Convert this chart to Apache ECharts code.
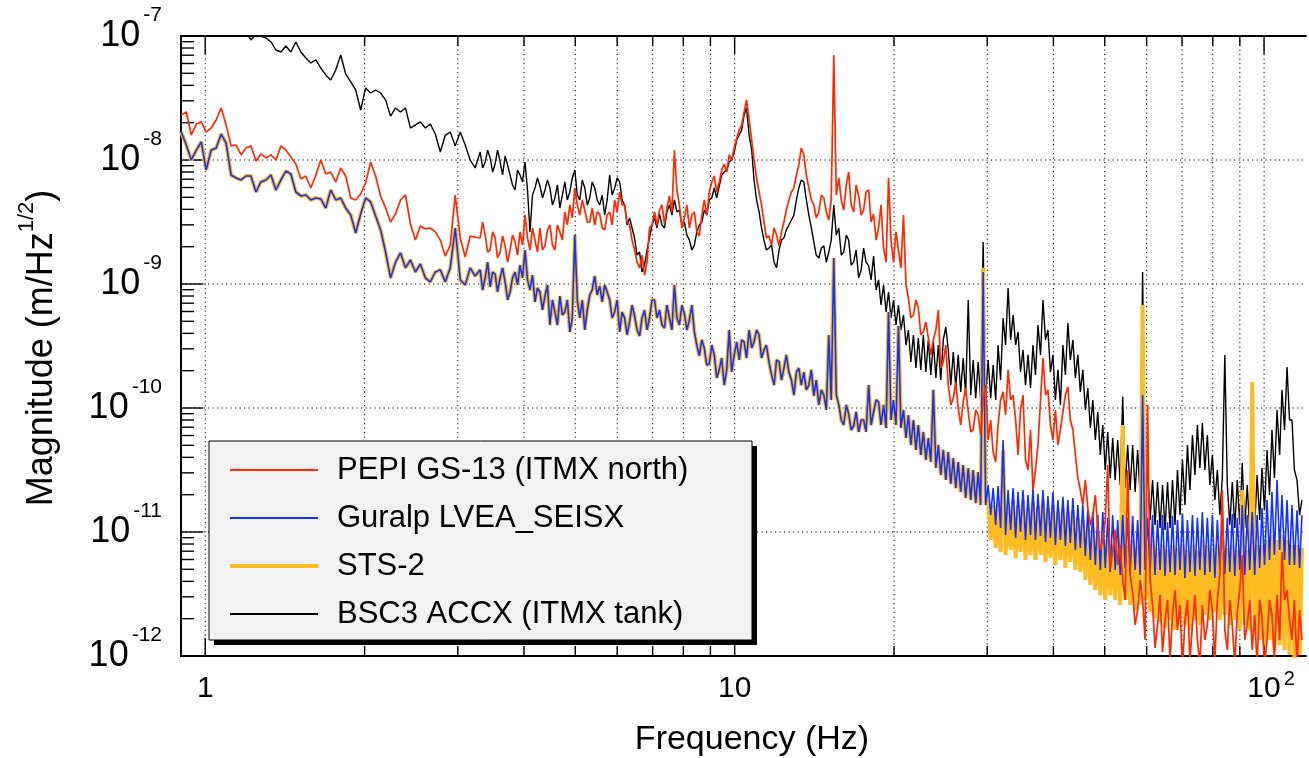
<!DOCTYPE html>
<html><head><meta charset="utf-8">
<script src="https://cdn.jsdelivr.net/npm/echarts@6/dist/echarts.min.js"></script>
<style>html,body{margin:0;padding:0;background:#fff}#c{width:1309px;height:758px}</style>
</head><body><div id="c"></div>
<script>
// Frequency samples (Hz)
const freq = [
0.901,0.921,0.941,0.962,0.983,1.004,1.026,1.049,1.072,1.095,
1.119,1.144,1.169,1.194,1.220,1.247,1.274,1.302,1.331,1.360,
1.390,1.420,1.451,1.483,1.516,1.549,1.583,1.618,1.653,1.689,
1.726,1.764,1.803,1.842,1.883,1.924,1.966,2.009,2.053,2.098,
2.144,2.191,2.239,2.288,2.338,2.389,2.441,2.495,2.549,2.605,
2.662,2.720,2.780,2.841,2.903,2.966,3.032,3.098,3.166,3.235,
3.306,3.342,3.379,3.416,3.453,3.491,3.528,3.566,3.606,3.645,
3.685,3.725,3.765,3.806,3.848,3.890,3.932,3.975,4.018,4.062,
4.106,4.151,4.196,4.242,4.288,4.335,4.382,4.430,4.478,4.527,
4.576,4.626,4.676,4.727,4.778,4.830,4.883,4.936,4.990,5.044,
5.099,5.155,5.211,5.268,5.325,5.383,5.441,5.500,5.561,5.622,
5.682,5.744,5.807,5.870,5.934,5.999,6.064,6.130,6.197,6.264,
6.332,6.401,6.471,6.541,6.613,6.685,6.757,6.831,6.905,6.980,
7.057,7.134,7.211,7.290,7.369,7.449,7.530,7.612,7.695,7.779,
7.864,7.950,8.036,8.124,8.212,8.301,8.392,8.483,8.576,8.669,
8.763,8.858,8.955,9.053,9.151,9.251,9.351,9.453,9.556,9.660,
9.765,9.871,9.98,10.09,10.20,10.31,10.42,10.53,10.65,10.77,
10.88,11.00,11.12,11.24,11.36,11.48,11.61,11.74,11.87,12.00,
12.13,12.26,12.39,12.52,12.66,12.80,12.94,13.08,13.22,13.36,
13.51,13.66,13.81,13.96,14.11,14.26,14.42,14.58,14.74,14.90,
15.06,15.22,15.39,15.56,15.73,15.90,16.07,16.25,16.42,16.60,
16.78,16.96,17.15,17.34,17.52,17.71,17.91,18.10,18.30,18.50,
18.70,18.90,19.11,19.32,19.53,19.74,19.95,20.17,20.39,20.61,
20.84,21.07,21.29,21.52,21.76,22.00,22.23,22.47,22.72,22.97,
23.22,23.47,23.73,23.99,24.25,24.51,24.78,25.05,25.32,25.60,
25.88,26.16,26.44,26.73,27.02,27.31,27.62,27.92,28.22,28.53,
28.84,29.15,29.47,29.79,30.12,30.45,30.78,31.12,31.45,31.79,
32.14,32.49,32.85,33.21,33.57,33.94,34.30,34.67,35.05,35.43,
35.82,36.21,36.60,37.00,37.41,37.82,38.23,38.65,39.06,39.49,
39.92,40.35,40.80,41.24,41.69,42.14,42.60,43.06,43.54,44.01,
44.49,44.97,45.46,45.96,46.46,46.97,47.48,48.00,48.52,49.05,
49.58,50.12,50.66,51.21,51.77,52.33,52.91,53.49,54.07,54.66,
55.25,55.85,56.46,57.07,57.70,58.33,58.96,59.60,60.25,60.91,
61.57,62.24,62.92,63.61,64.30,65.00,65.71,66.43,67.15,67.88,
68.62,69.37,70.12,70.88,71.66,72.44,73.23,74.03,74.83,75.64,
76.47,77.30,78.14,78.99,79.86,80.73,81.61,82.50,83.39,84.30,
85.22,86.15,87.09,88.04,89.00,89.97,90.94,91.93,92.93,93.94,
94.97,96.00,97.0,98.1,99.1,100.2,101.3,102.4,103.5,104.6,
105.8,107.0,108.1,109.3,110.5,111.7,112.9,114.1,115.4,116.7,
117.9];

// PEPI GS-13 (ITMX north), m/Hz^1/2
const pepi = [
2.31e-8,2.44e-8,1.59e-8,1.95e-8,2.03e-8,1.68e-8,1.81e-8,2.10e-8,2.63e-8,1.92e-8,
1.30e-8,1.32e-8,1.10e-8,1.25e-8,1.30e-8,9.82e-9,1.12e-8,1.04e-8,1.10e-8,1.00e-8,
1.30e-8,1.20e-8,1.06e-8,9.29e-9,7.03e-9,7.43e-9,5.95e-9,7.57e-9,1.00e-8,7.71e-9,
8.00e-9,6.65e-9,8.62e-9,7.43e-9,4.94e-9,4.76e-9,5.32e-9,6.53e-9,9.64e-9,7.43e-9,
5.13e-9,4.10e-9,3.16e-9,3.67e-9,4.76e-9,5.22e-9,3.05e-9,2.26e-9,2.94e-9,2.78e-9,
2.83e-9,2.63e-9,2.26e-9,1.68e-9,2.06e-9,5.22e-9,2.35e-9,1.65e-9,2.44e-9,2.39e-9,
2.35e-9,3.16e-9,2.48e-9,1.81e-9,1.88e-9,2.63e-9,2.35e-9,1.62e-9,1.81e-9,2.44e-9,
2.03e-9,1.50e-9,1.88e-9,2.48e-9,2.18e-9,1.71e-9,2.63e-9,2.06e-9,3.60e-9,2.35e-9,
1.88e-9,2.83e-9,2.26e-9,1.81e-9,2.83e-9,1.88e-9,2.03e-9,2.73e-9,2.99e-9,2.06e-9,
1.88e-9,2.99e-9,2.63e-9,2.26e-9,3.81e-9,2.99e-9,4.34e-9,3.41e-9,5.95e-9,4.34e-9,
3.60e-9,4.76e-9,3.95e-9,3.16e-9,3.16e-9,4.10e-9,2.99e-9,3.81e-9,3.67e-9,2.83e-9,
2.73e-9,3.60e-9,3.81e-9,2.99e-9,4.76e-9,3.81e-9,5.52e-9,4.34e-9,4.34e-9,3.16e-9,
2.99e-9,2.26e-9,1.88e-9,1.50e-9,1.35e-9,1.71e-9,1.18e-9,1.50e-9,2.83e-9,2.99e-9,
3.81e-9,2.99e-9,3.95e-9,4.34e-9,3.05e-9,4.10e-9,5.13e-9,3.81e-9,1.20e-8,5.73e-9,
4.34e-9,2.83e-9,3.41e-9,4.34e-9,2.83e-9,3.60e-9,3.81e-9,2.63e-9,2.44e-9,3.60e-9,
4.76e-9,3.60e-9,5.52e-9,6.65e-9,7.43e-9,5.52e-9,6.65e-9,8.31e-9,9.29e-9,8.00e-9,
1.10e-8,1.00e-8,1.25e-8,1.50e-8,1.75e-8,1.92e-8,2.44e-8,3.05e-8,2.10e-8,1.45e-8,
1.00e-8,7.16e-9,5.52e-9,4.34e-9,3.16e-9,2.35e-9,2.44e-9,2.06e-9,2.83e-9,2.48e-9,
2.03e-9,2.63e-9,3.16e-9,3.95e-9,4.76e-9,5.52e-9,5.95e-9,7.57e-9,9.12e-9,1.25e-8,
1.10e-8,7.57e-9,5.95e-9,4.76e-9,4.34e-9,3.41e-9,3.81e-9,5.22e-9,4.94e-9,3.81e-9,
3.28e-9,4.76e-9,7.03e-8,5.22e-9,7.16e-9,4.76e-9,3.95e-9,6.29e-9,8.00e-9,4.34e-9,
3.81e-9,6.29e-9,5.13e-9,3.60e-9,3.95e-9,5.52e-9,5.73e-9,3.16e-9,3.67e-9,2.26e-9,
2.83e-9,4.34e-9,1.95e-9,1.50e-9,7.16e-9,2.26e-9,1.50e-9,2.63e-9,1.88e-9,1.35e-9,
3.60e-9,9.82e-10,7.71e-10,5.32e-10,5.62e-10,7.43e-10,6.41e-10,3.88e-10,4.10e-10,4.94e-10,
3.67e-10,2.68e-10,3.54e-10,4.26e-10,6.17e-10,2.10e-10,2.35e-10,3.22e-10,1.53e-10,1.06e-10,
1.20e-10,1.62e-10,1.00e-10,7.29e-11,1.12e-10,1.45e-10,9.29e-11,6.41e-11,6.65e-11,9.64e-11,
8.78e-11,6.06e-11,1.16e-10,1.53e-10,5.52e-11,8.00e-11,4.42e-11,3.67e-11,7.29e-11,1.16e-10,
1.35e-10,8.78e-11,2.03e-10,1.16e-10,1.27e-10,8.00e-11,4.18e-11,9.64e-11,1.27e-10,3.81e-11,
3.16e-11,6.65e-11,2.18e-11,3.16e-11,5.03e-11,1.16e-10,2.53e-10,1.27e-10,1.40e-10,7.29e-11,
5.52e-11,9.64e-11,5.03e-11,6.65e-11,9.29e-11,1.27e-10,1.48e-10,8.00e-11,6.65e-11,4.18e-11,
2.73e-11,2.18e-11,1.65e-11,2.63e-11,1.56e-11,1.14e-11,1.37e-11,1.99e-11,1.08e-11,7.16e-12,
8.62e-12,1.25e-11,3.47e-11,4.94e-12,7.16e-12,1.04e-11,5.42e-12,7.85e-12,4.10e-12,2.83e-12,
3.16e-11,4.50e-12,3.28e-12,1.78e-12,2.35e-12,4.10e-12,2.83e-12,1.35e-12,1.06e-10,4.10e-12,
2.58e-12,1.16e-12,1.78e-12,3.10e-12,1.08e-12,1.95e-12,2.83e-12,9.3e-13,2.14e-12,3.41e-12,
1.62e-12,2.58e-12,8.0e-13,1.95e-12,2.83e-12,9.3e-13,1.78e-12,3.10e-12,1.35e-12,8.5e-13,
2.58e-12,1.35e-12,1.78e-12,3.41e-12,2.35e-12,9.3e-13,2.83e-12,4.50e-12,2.18e-11,1.62e-12,
1.12e-12,2.83e-12,1.78e-12,8.5e-13,2.26e-12,3.41e-12,6.53e-12,1.35e-12,1.78e-12,2.83e-12,
1.12e-12,2.14e-12,8.5e-13,2.83e-12,2.03e-12,8.5e-13,1.35e-12,2.83e-12,2.14e-12,9.3e-13,
3.10e-12,1.35e-12,6.90e-12,2.83e-12,3.41e-12,1.95e-12,1.35e-12,2.83e-12,8.5e-13,2.35e-12,
1.35e-12];

// Guralp LVEA_SEISX
const guralp = [
1.68e-8,1.32e-8,1.00e-8,1.20e-8,1.40e-8,8.31e-9,1.20e-8,1.25e-8,1.62e-8,1.37e-8,
7.57e-9,7.16e-9,6.90e-9,7.43e-9,7.43e-9,5.52e-9,6.65e-9,6.90e-9,7.57e-9,5.73e-9,
6.90e-9,8.15e-9,7.71e-9,5.52e-9,5.13e-9,5.22e-9,4.76e-9,4.94e-9,4.85e-9,4.10e-9,
5.73e-9,4.76e-9,4.94e-9,4.10e-9,3.60e-9,2.58e-9,3.67e-9,4.94e-9,4.59e-9,3.54e-9,
2.73e-9,1.81e-9,1.12e-9,1.50e-9,1.78e-9,1.35e-9,1.56e-9,1.25e-9,1.45e-9,1.12e-9,
1.04e-9,1.25e-9,1.30e-9,1.04e-9,1.35e-9,2.83e-9,1.08e-9,9.82e-10,1.35e-9,1.16e-9,
1.30e-9,8.95e-10,1.12e-9,1.50e-9,9.46e-10,1.25e-9,1.20e-9,8.62e-10,1.12e-9,1.35e-9,
1.04e-9,7.43e-10,8.62e-10,1.12e-9,1.25e-9,9.82e-10,1.42e-9,1.12e-9,1.88e-9,1.08e-9,
8.95e-10,1.18e-9,7.16e-10,9.29e-10,8.62e-10,6.17e-10,8.00e-10,9.82e-10,4.67e-10,7.43e-10,
5.95e-10,4.67e-10,8.00e-10,5.62e-10,5.95e-10,7.43e-10,4.10e-10,5.32e-10,2.48e-9,7.43e-10,
5.32e-10,7.43e-10,4.26e-10,6.17e-10,8.15e-10,8.95e-10,1.16e-9,8.15e-10,9.64e-10,7.16e-10,
9.82e-10,8.62e-10,7.43e-10,5.32e-10,5.95e-10,7.43e-10,4.10e-10,5.95e-10,5.32e-10,3.88e-10,
4.94e-10,6.77e-10,5.52e-10,4.26e-10,3.81e-10,5.32e-10,6.17e-10,4.26e-10,5.32e-10,7.43e-10,
7.43e-10,5.32e-10,6.17e-10,4.67e-10,4.42e-10,6.77e-10,5.32e-10,4.26e-10,9.82e-10,5.32e-10,
4.67e-10,6.77e-10,5.73e-10,4.26e-10,5.13e-10,6.77e-10,4.10e-10,3.22e-10,2.63e-10,3.54e-10,
3.05e-10,2.22e-10,2.26e-10,3.22e-10,2.68e-10,1.75e-10,2.03e-10,2.53e-10,1.53e-10,2.03e-10,
4.26e-10,1.95e-10,2.68e-10,3.41e-10,2.44e-10,3.54e-10,3.41e-10,2.53e-10,4.26e-10,3.05e-10,
3.41e-10,4.26e-10,3.88e-10,2.53e-10,2.94e-10,3.22e-10,2.35e-10,1.85e-10,1.53e-10,2.44e-10,
2.35e-10,1.68e-10,2.10e-10,2.68e-10,1.95e-10,1.68e-10,1.27e-10,1.95e-10,2.10e-10,1.53e-10,
1.95e-10,1.40e-10,1.53e-10,2.03e-10,1.25e-10,1.68e-10,1.06e-10,1.40e-10,1.27e-10,9.64e-11,
3.88e-10,1.16e-10,1.62e-9,1.27e-10,1.06e-10,8.00e-11,7.29e-11,1.06e-10,8.95e-11,6.65e-11,
7.16e-11,9.29e-11,6.41e-11,8.00e-11,8.00e-11,6.41e-11,1.53e-10,7.29e-11,9.29e-11,1.16e-10,
1.12e-10,7.29e-11,1.06e-10,6.90e-11,5.95e-10,8.00e-11,1.16e-10,7.29e-11,4.59e-10,6.90e-11,
9.64e-11,5.73e-11,8.78e-11,5.03e-11,8.00e-11,4.59e-11,7.29e-11,4.18e-11,6.41e-11,3.81e-11,
5.73e-11,3.67e-11,1.40e-10,3.28e-11,5.03e-11,2.88e-11,4.59e-11,2.63e-11,4.42e-11,2.44e-11,
3.95e-11,2.26e-11,3.67e-11,2.10e-11,3.47e-11,1.88e-11,3.28e-11,1.81e-11,3.16e-11,1.71e-11,
3.05e-11,1.65e-11,1.25e-9,1.65e-11,2.39e-11,1.37e-11,2.26e-11,1.14e-11,2.35e-11,1.08e-11,
5.52e-11,9.46e-12,2.18e-11,1.04e-11,2.26e-11,8.95e-12,2.10e-11,1.00e-11,2.18e-11,8.62e-12,
1.99e-11,9.46e-12,2.26e-11,8.62e-12,2.03e-11,9.29e-12,2.18e-11,8.31e-12,1.95e-11,8.95e-12,
2.10e-11,7.85e-12,1.81e-11,8.62e-12,1.92e-11,7.71e-12,1.81e-11,8.15e-12,1.88e-11,7.16e-12,
1.65e-11,7.43e-12,1.65e-11,6.41e-12,1.50e-11,5.95e-12,1.45e-11,5.42e-12,1.37e-11,4.94e-12,
1.45e-11,5.13e-12,1.30e-11,4.76e-12,1.37e-11,4.94e-12,1.25e-11,4.50e-12,1.37e-11,5.13e-12,
1.30e-11,4.59e-12,1.35e-11,4.94e-12,1.25e-11,4.50e-12,1.27e-10,4.94e-12,1.30e-11,4.76e-12,
1.37e-11,4.50e-12,1.25e-11,4.94e-12,1.37e-11,4.42e-12,1.20e-11,4.76e-12,1.35e-11,4.50e-12,
1.25e-11,4.94e-12,1.40e-11,4.26e-12,1.25e-11,4.76e-12,1.37e-11,4.42e-12,1.30e-11,4.94e-12,
1.45e-11,4.50e-12,1.30e-11,4.76e-12,1.37e-11,4.26e-12,1.25e-11,4.94e-12,1.45e-11,4.59e-12,
1.30e-11,4.76e-12,1.40e-11,4.42e-12,1.30e-11,4.94e-12,1.65e-11,4.50e-12,1.37e-11,4.94e-12,
1.45e-11,4.50e-12,1.37e-11,5.13e-12,1.56e-11,5.42e-12,1.81e-11,5.95e-12,2.10e-11,6.53e-12,
2.63e-11,7.16e-12,1.99e-11,5.95e-12,1.81e-11,5.42e-12,1.65e-11,5.42e-12,1.50e-11,5.13e-12,
1.37e-11];

// STS-2
const sts2 = [
1.68e-8,1.32e-8,1.00e-8,1.20e-8,1.40e-8,8.31e-9,1.20e-8,1.25e-8,1.62e-8,1.37e-8,
7.57e-9,7.16e-9,6.90e-9,7.43e-9,7.43e-9,5.52e-9,6.65e-9,6.90e-9,7.57e-9,5.73e-9,
6.90e-9,8.15e-9,7.71e-9,5.52e-9,5.13e-9,5.22e-9,4.76e-9,4.94e-9,4.85e-9,4.10e-9,
5.73e-9,4.76e-9,4.94e-9,4.10e-9,3.60e-9,2.58e-9,3.67e-9,4.94e-9,4.59e-9,3.54e-9,
2.73e-9,1.81e-9,1.12e-9,1.50e-9,1.78e-9,1.35e-9,1.56e-9,1.25e-9,1.45e-9,1.12e-9,
1.04e-9,1.25e-9,1.30e-9,1.04e-9,1.35e-9,2.83e-9,1.08e-9,9.82e-10,1.35e-9,1.16e-9,
1.30e-9,8.95e-10,1.12e-9,1.50e-9,9.46e-10,1.25e-9,1.20e-9,8.62e-10,1.12e-9,1.35e-9,
1.04e-9,7.43e-10,8.62e-10,1.12e-9,1.25e-9,9.82e-10,1.42e-9,1.12e-9,1.88e-9,1.08e-9,
8.95e-10,1.18e-9,7.16e-10,9.29e-10,8.62e-10,6.17e-10,8.00e-10,9.82e-10,4.67e-10,7.43e-10,
5.95e-10,4.67e-10,8.00e-10,5.62e-10,5.95e-10,7.43e-10,4.10e-10,5.32e-10,2.48e-9,7.43e-10,
5.32e-10,7.43e-10,4.26e-10,6.17e-10,8.15e-10,8.95e-10,1.16e-9,8.15e-10,9.64e-10,7.16e-10,
9.82e-10,8.62e-10,7.43e-10,5.32e-10,5.95e-10,7.43e-10,4.10e-10,5.95e-10,5.32e-10,3.88e-10,
4.94e-10,6.77e-10,5.52e-10,4.26e-10,3.81e-10,5.32e-10,6.17e-10,4.26e-10,5.32e-10,7.43e-10,
7.43e-10,5.32e-10,6.17e-10,4.67e-10,4.42e-10,6.77e-10,5.32e-10,4.26e-10,9.82e-10,5.32e-10,
4.67e-10,6.77e-10,5.73e-10,4.26e-10,5.13e-10,6.77e-10,4.10e-10,3.22e-10,2.63e-10,3.54e-10,
3.05e-10,2.22e-10,2.26e-10,3.22e-10,2.68e-10,1.75e-10,2.03e-10,2.53e-10,1.53e-10,2.03e-10,
4.26e-10,1.95e-10,2.68e-10,3.41e-10,2.44e-10,3.54e-10,3.41e-10,2.53e-10,4.26e-10,3.05e-10,
3.41e-10,4.26e-10,3.88e-10,2.53e-10,2.94e-10,3.22e-10,2.35e-10,1.85e-10,1.53e-10,2.44e-10,
2.35e-10,1.68e-10,2.10e-10,2.68e-10,1.95e-10,1.68e-10,1.27e-10,1.95e-10,2.10e-10,1.53e-10,
1.95e-10,1.40e-10,1.53e-10,2.03e-10,1.25e-10,1.68e-10,1.06e-10,1.40e-10,1.27e-10,9.64e-11,
3.88e-10,1.16e-10,1.62e-9,1.27e-10,1.06e-10,8.00e-11,7.29e-11,1.06e-10,8.95e-11,6.65e-11,
7.16e-11,9.29e-11,6.41e-11,8.00e-11,8.00e-11,6.41e-11,1.53e-10,7.29e-11,9.29e-11,1.16e-10,
1.12e-10,7.29e-11,1.06e-10,6.90e-11,5.95e-10,8.00e-11,1.16e-10,7.29e-11,4.59e-10,6.90e-11,
9.64e-11,5.73e-11,8.78e-11,5.03e-11,8.00e-11,4.59e-11,7.29e-11,4.18e-11,6.41e-11,3.81e-11,
5.73e-11,3.67e-11,1.40e-10,3.28e-11,5.03e-11,2.88e-11,4.59e-11,2.63e-11,4.42e-11,2.44e-11,
3.95e-11,2.26e-11,3.67e-11,2.10e-11,3.47e-11,1.88e-11,3.28e-11,1.81e-11,3.16e-11,1.71e-11,
3.05e-11,1.65e-11,1.35e-9,1.65e-11,1.81e-11,8.62e-12,1.65e-11,7.43e-12,1.75e-11,6.90e-12,
4.59e-11,6.53e-12,1.65e-11,7.16e-12,1.81e-11,6.17e-12,1.65e-11,6.90e-12,1.81e-11,5.95e-12,
1.56e-11,6.53e-12,1.75e-11,5.95e-12,1.62e-11,6.53e-12,1.81e-11,5.73e-12,1.56e-11,6.17e-12,
1.65e-11,5.42e-12,1.45e-11,5.95e-12,1.56e-11,5.13e-12,1.45e-11,5.73e-12,1.50e-11,4.94e-12,
1.30e-11,4.76e-12,1.25e-11,4.10e-12,1.14e-11,3.74e-12,1.04e-11,3.41e-12,9.46e-12,3.10e-12,
8.62e-12,2.83e-12,8.62e-12,3.10e-12,7.85e-12,2.83e-12,8.62e-12,2.58e-12,7.29e-11,2.83e-12,
7.85e-12,2.58e-12,8.62e-12,2.35e-12,7.85e-12,2.58e-12,6.77e-10,2.83e-12,7.85e-12,2.26e-12,
8.62e-12,2.03e-12,7.43e-12,1.88e-12,7.85e-12,1.68e-12,7.16e-12,1.95e-12,7.85e-12,1.62e-12,
7.43e-12,2.14e-12,7.85e-12,1.78e-12,7.16e-12,1.62e-12,7.85e-12,1.95e-12,7.16e-12,1.78e-12,
8.62e-12,2.14e-12,7.85e-12,1.95e-12,7.43e-12,2.26e-12,7.85e-12,1.95e-12,8.62e-12,2.14e-12,
7.43e-12,1.78e-12,7.85e-12,1.95e-12,7.16e-12,1.62e-12,2.18e-11,1.78e-12,7.16e-12,1.62e-12,
1.62e-10,1.48e-12,7.85e-12,1.35e-12,7.85e-12,1.23e-12,8.62e-12,1.35e-12,9.46e-12,1.12e-12,
8.62e-12,1.23e-12,9.46e-12,1.12e-12,8.62e-12,1.02e-12,7.85e-12,9.3e-13,7.85e-12,1.02e-12,
7.43e-12];

// BSC3 ACCX (ITMX tank)
const bsc3 = [
1.30e-7,1.40e-7,1.23e-7,1.48e-7,1.35e-7,1.56e-7,1.30e-7,1.40e-7,1.50e-7,1.25e-7,
1.35e-7,1.16e-7,1.23e-7,1.08e-7,9.29e-8,1.04e-7,1.00e-7,9.64e-8,8.95e-8,7.71e-8,
7.43e-8,8.31e-8,7.43e-8,8.95e-8,7.43e-8,6.65e-8,6.06e-8,6.41e-8,5.52e-8,4.85e-8,
4.42e-8,5.32e-8,7.03e-8,4.94e-8,4.26e-8,3.67e-8,2.53e-8,3.81e-8,3.47e-8,3.67e-8,
3.47e-8,3.05e-8,2.26e-8,2.63e-8,2.44e-8,2.63e-8,1.81e-8,1.92e-8,2.03e-8,1.81e-8,
1.95e-8,1.62e-8,1.16e-8,1.59e-8,1.68e-8,1.30e-8,1.68e-8,1.32e-8,1.00e-8,8.62e-9,
1.16e-8,8.62e-9,9.64e-9,1.20e-8,1.04e-8,8.00e-9,9.29e-9,1.20e-8,9.64e-9,7.57e-9,
1.08e-8,9.12e-9,7.57e-9,6.29e-9,5.73e-9,8.31e-9,7.57e-9,6.65e-9,9.64e-9,5.73e-9,
2.63e-9,5.22e-9,5.95e-9,7.16e-9,6.17e-9,4.94e-9,5.73e-9,6.90e-9,5.95e-9,4.34e-9,
4.94e-9,6.29e-9,4.10e-9,5.22e-9,6.65e-9,4.76e-9,5.52e-9,7.16e-9,8.31e-9,5.22e-9,
4.76e-9,6.90e-9,5.95e-9,4.34e-9,4.94e-9,6.65e-9,5.95e-9,4.76e-9,4.34e-9,5.22e-9,
3.60e-9,4.76e-9,7.57e-9,5.22e-9,5.95e-9,7.16e-9,6.65e-9,4.76e-9,4.34e-9,2.99e-9,
3.41e-9,2.83e-9,2.35e-9,1.71e-9,1.81e-9,1.25e-9,1.42e-9,1.88e-9,2.35e-9,2.99e-9,
3.41e-9,2.83e-9,3.67e-9,2.99e-9,2.83e-9,3.81e-9,4.34e-9,3.60e-9,4.76e-9,3.81e-9,
3.95e-9,2.99e-9,3.16e-9,2.48e-9,2.26e-9,1.88e-9,2.06e-9,2.63e-9,2.99e-9,3.16e-9,
3.95e-9,3.60e-9,4.76e-9,4.94e-9,5.95e-9,4.94e-9,6.17e-9,7.57e-9,8.00e-9,8.31e-9,
9.64e-9,1.00e-8,1.16e-8,1.45e-8,1.59e-8,1.75e-8,2.31e-8,2.63e-8,1.59e-8,1.20e-8,
6.90e-9,4.76e-9,3.81e-9,2.83e-9,2.26e-9,1.88e-9,1.95e-9,2.06e-9,1.50e-9,1.35e-9,
1.88e-9,2.26e-9,2.35e-9,2.73e-9,2.99e-9,3.28e-9,3.60e-9,4.76e-9,5.95e-9,6.90e-9,
6.65e-9,4.76e-9,3.60e-9,2.83e-9,2.18e-9,1.71e-9,1.62e-9,1.95e-9,2.03e-9,1.50e-9,
1.81e-9,2.26e-9,4.34e-9,2.48e-9,2.83e-9,1.71e-9,1.81e-9,2.48e-9,2.26e-9,1.42e-9,
1.50e-9,1.88e-9,1.12e-9,1.30e-9,1.95e-9,1.50e-9,1.40e-9,1.08e-9,1.68e-9,8.95e-10,
1.08e-9,6.77e-10,9.82e-10,5.95e-10,8.62e-10,5.32e-10,7.43e-10,4.67e-10,6.77e-10,4.26e-10,
5.62e-10,3.22e-10,4.26e-10,2.35e-10,3.88e-10,2.10e-10,3.67e-10,2.03e-10,3.88e-10,1.95e-10,
3.54e-10,1.85e-10,3.41e-10,1.75e-10,3.22e-10,1.68e-10,3.54e-10,4.50e-10,2.94e-10,1.53e-10,
2.83e-10,1.45e-10,2.68e-10,1.35e-10,2.53e-10,1.27e-10,7.43e-10,1.27e-10,2.44e-10,1.20e-10,
2.35e-10,1.16e-10,2.18e-9,1.27e-10,2.44e-10,1.20e-10,2.22e-10,1.16e-10,3.22e-10,1.68e-10,
5.32e-10,3.22e-10,9.29e-10,3.54e-10,5.62e-10,3.22e-10,4.10e-10,1.95e-10,2.94e-10,1.53e-10,
2.68e-10,1.45e-10,3.22e-10,1.85e-10,4.67e-10,2.68e-10,7.43e-10,3.54e-10,4.26e-10,1.95e-10,
2.68e-10,1.16e-10,2.03e-10,1.06e-10,3.22e-10,1.85e-10,4.85e-10,2.44e-10,3.54e-10,1.75e-10,
2.68e-10,1.35e-10,2.03e-10,9.64e-11,1.45e-10,6.90e-11,1.16e-10,5.52e-11,9.29e-11,4.18e-11,
7.29e-11,3.16e-11,6.41e-11,2.73e-11,5.73e-11,2.63e-11,5.52e-11,2.39e-11,1.23e-10,2.26e-11,
5.03e-11,2.18e-11,5.03e-11,2.10e-11,4.59e-11,1.99e-11,1.25e-9,1.99e-11,3.16e-11,1.25e-11,
2.63e-11,1.14e-11,2.53e-11,1.08e-11,2.39e-11,1.04e-11,2.53e-11,1.08e-11,2.63e-11,1.14e-11,
3.16e-11,1.37e-11,3.81e-11,1.65e-11,5.03e-11,2.18e-11,6.06e-11,2.88e-11,7.29e-11,3.28e-11,
7.57e-11,3.16e-11,6.06e-11,2.39e-11,4.18e-11,1.81e-11,3.16e-11,1.37e-11,2.73e-11,2.68e-10,
2.39e-11,1.14e-11,2.53e-11,1.08e-11,2.63e-11,1.14e-11,3.60e-11,1.08e-11,2.39e-11,1.04e-11,
2.63e-11,1.08e-11,2.88e-11,1.25e-11,3.28e-11,1.50e-11,4.59e-11,1.99e-11,6.65e-11,2.73e-11,
9.64e-11,4.18e-11,1.40e-10,6.65e-11,2.14e-10,8.00e-11,8.00e-11,3.16e-11,2.63e-11,1.37e-11,
1.81e-11];

// Axis tick / grid values
const xGridTicks = [1,2,3,4,5,6,7,8,9,10,20,30,40,50,60,70,80,90,100];
const xMajorTicks = [1,10,100];
const yMajorTicks = [1e-12,1e-11,1e-10,1e-9,1e-8,1e-7];
const yMinorTicks = [2e-12,3e-12,4e-12,5e-12,6e-12,7e-12,8e-12,9e-12,
  2e-11,3e-11,4e-11,5e-11,6e-11,7e-11,8e-11,9e-11,
  2e-10,3e-10,4e-10,5e-10,6e-10,7e-10,8e-10,9e-10,
  2e-9,3e-9,4e-9,5e-9,6e-9,7e-9,8e-9,9e-9,
  2e-8,3e-8,4e-8,5e-8,6e-8,7e-8,8e-8,9e-8];
const seriesNames = ['PEPI GS-13 (ITMX north)','Guralp LVEA_SEISX','STS-2','BSC3 ACCX (ITMX tank)'];

const FONT = 'Liberation Sans, Arial, Helvetica, sans-serif';
const X_MIN = 0.9, X_MAX = 120, Y_MIN = 1e-12, Y_MAX = 1e-7;
const pairs = arr => freq.map((f, i) => [f, arr[i]]);

const chart = echarts.init(document.getElementById('c'), null, {renderer: 'canvas'});

function isPow10(v) { const l = Math.log10(v); return Math.abs(l - Math.round(l)) < 1e-6; }

const option = {
  animation: false,
  backgroundColor: '#ffffff',
  grid: {left: 181, top: 36, right: 0, bottom: 102, containLabel: false},
  xAxis: [{
    type: 'log', logBase: 10, min: X_MIN, max: X_MAX,
    axisLine: {show: true, onZero: false, lineStyle: {color: '#000', width: 2}},
    axisTick: {show: false}, splitLine: {show: false},
    axisLabel: {
      margin: 13, color: '#000', fontFamily: FONT,
      showMinLabel: true, showMaxLabel: true,
      formatter: v => {
        if (!isPow10(v)) return '';
        const e = Math.round(Math.log10(v));
        if (e === 0) return '{b|1}';
        if (e === 1) return '{b|10}';
        return '{bp|10}{s|' + e + '}';
      },
      rich: {
        b: {fontSize: 30, lineHeight: 40, fontFamily: FONT, color: '#000'},
        bp: {fontSize: 30, lineHeight: 40, fontFamily: FONT, color: '#000', padding: [0, 0, 0, 14]},
        s: {fontSize: 20, lineHeight: 20, fontFamily: FONT, color: '#000', verticalAlign: 'top', padding: [0, 0, 0, 3]}
      }
    }
  }, {
    type: 'log', logBase: 10, min: X_MIN, max: X_MAX, position: 'top',
    axisLine: {show: true, onZero: false, lineStyle: {color: '#000', width: 2}},
    axisTick: {show: false}, axisLabel: {show: false}, splitLine: {show: false}
  }],
  yAxis: {
    type: 'log', logBase: 10, min: Y_MIN, max: Y_MAX,
    axisLine: {show: true, onZero: false, lineStyle: {color: '#000', width: 2}},
    axisTick: {show: false}, splitLine: {show: false},
    axisLabel: {
      margin: 19, color: '#000', fontFamily: FONT,
      formatter: v => '{b|10}{s|' + Math.round(Math.log10(v)) + '}',
      rich: {
        b: {fontSize: 36, lineHeight: 62, fontFamily: FONT, color: '#000'},
        s: {fontSize: 21, lineHeight: 21, fontFamily: FONT, color: '#000', verticalAlign: 'top', padding: [0, 0, 0, 3]}
      }
    }
  },
  legend: {
    data: [
      {name: seriesNames[0]},
      {name: seriesNames[1]},
      {name: seriesNames[2], lineStyle: {width: 4}},
      {name: seriesNames[3]}
    ],
    orient: 'vertical', left: 228, top: 452, padding: 0,
    itemWidth: 88, itemHeight: 36, itemGap: 12, z: 6, selectedMode: false,
    itemStyle: {opacity: 0, borderWidth: 0},
    textStyle: {fontSize: 31, lineHeight: 36, color: '#000', fontFamily: FONT, padding: [0, 0, 0, 14]}
  },
  graphic: [
    {type: 'rect', z: 3, silent: true, shape: {x: 214, y: 446, width: 543, height: 199}, style: {fill: '#000'}},
    {type: 'rect', z: 3, silent: true, shape: {x: 209, y: 441, width: 543, height: 199}, style: {fill: '#f2f2f2', stroke: '#000', lineWidth: 1}},
    {type: 'text', z: 3, silent: true, x: 752, y: 740,
      style: {text: 'Frequency (Hz)', fontSize: 34, fontFamily: FONT, fill: '#000', align: 'center', verticalAlign: 'middle'}},
    {type: 'text', z: 3, silent: true, x: 42, y: 348, rotation: Math.PI / 2,
      style: {text: '{a|Magnitude (m/Hz}{s|1/2}{a|)}', align: 'center', verticalAlign: 'middle', fill: '#000',
        rich: {a: {fontSize: 36, lineHeight: 52, fontFamily: FONT, fill: '#000'},
               s: {fontSize: 22, lineHeight: 22, fontFamily: FONT, fill: '#000', verticalAlign: 'top'}}}}
  ],
  series: [
    {
      type: 'custom', name: 'xgrid', coordinateSystem: 'cartesian2d', z: 1, silent: true,
      data: xGridTicks.map(v => [v, Y_MIN]),
      renderItem: (params, api) => {
        const cs = params.coordSys;
        const v = api.value(0);
        const x = api.coord([v, Y_MIN])[0];
        const L = xMajorTicks.indexOf(v) >= 0 ? 18 : 10;
        const top = cs.y, bot = cs.y + cs.height;
        return {type: 'group', children: [
          {type: 'line', shape: {x1: x, y1: top, x2: x, y2: bot}, style: {stroke: '#000', lineWidth: 1, lineDash: [1.2, 3.3]}},
          {type: 'line', shape: {x1: x, y1: bot, x2: x, y2: bot - L}, style: {stroke: '#000', lineWidth: 1.4}},
          {type: 'line', shape: {x1: x, y1: top, x2: x, y2: top + L}, style: {stroke: '#000', lineWidth: 1.4}}
        ]};
      }
    },
    {
      type: 'custom', name: 'ygrid', coordinateSystem: 'cartesian2d', z: 1, silent: true,
      data: yMajorTicks.map(v => [1, v, 1]).concat(yMinorTicks.map(v => [1, v, 0])),
      renderItem: (params, api) => {
        const cs = params.coordSys;
        const y = api.coord([1, api.value(1)])[1];
        const major = api.value(2) === 1;
        const L = major ? 22 : 13;
        const ch = [{type: 'line', shape: {x1: cs.x, y1: y, x2: cs.x + L, y2: y}, style: {stroke: '#000', lineWidth: 1.4}}];
        if (major) ch.push({type: 'line', shape: {x1: cs.x, y1: y, x2: cs.x + cs.width, y2: y}, style: {stroke: '#000', lineWidth: 1, lineDash: [1.2, 3.3]}});
        return {type: 'group', children: ch};
      }
    },
    {name: seriesNames[3], type: 'line', data: pairs(bsc3), symbol: 'none', clip: true,
      lineStyle: {color: '#000000', width: 1.4}, itemStyle: {color: '#000000'}},
    {name: seriesNames[2], type: 'line', data: pairs(sts2), symbol: 'none', clip: true,
      lineStyle: {color: '#ffbb22', width: 4}, itemStyle: {color: '#ffbb22'}},
    {name: seriesNames[1], type: 'line', data: pairs(guralp), symbol: 'none', clip: true,
      lineStyle: {color: '#1133ff', width: 1.6}, itemStyle: {color: '#1133ff'}},
    {name: seriesNames[0], type: 'line', data: pairs(pepi), symbol: 'none', clip: true,
      lineStyle: {color: '#ff2a00', width: 1.7}, itemStyle: {color: '#ff2a00'}}
  ]
};
chart.setOption(option);
</script>
</body></html>
